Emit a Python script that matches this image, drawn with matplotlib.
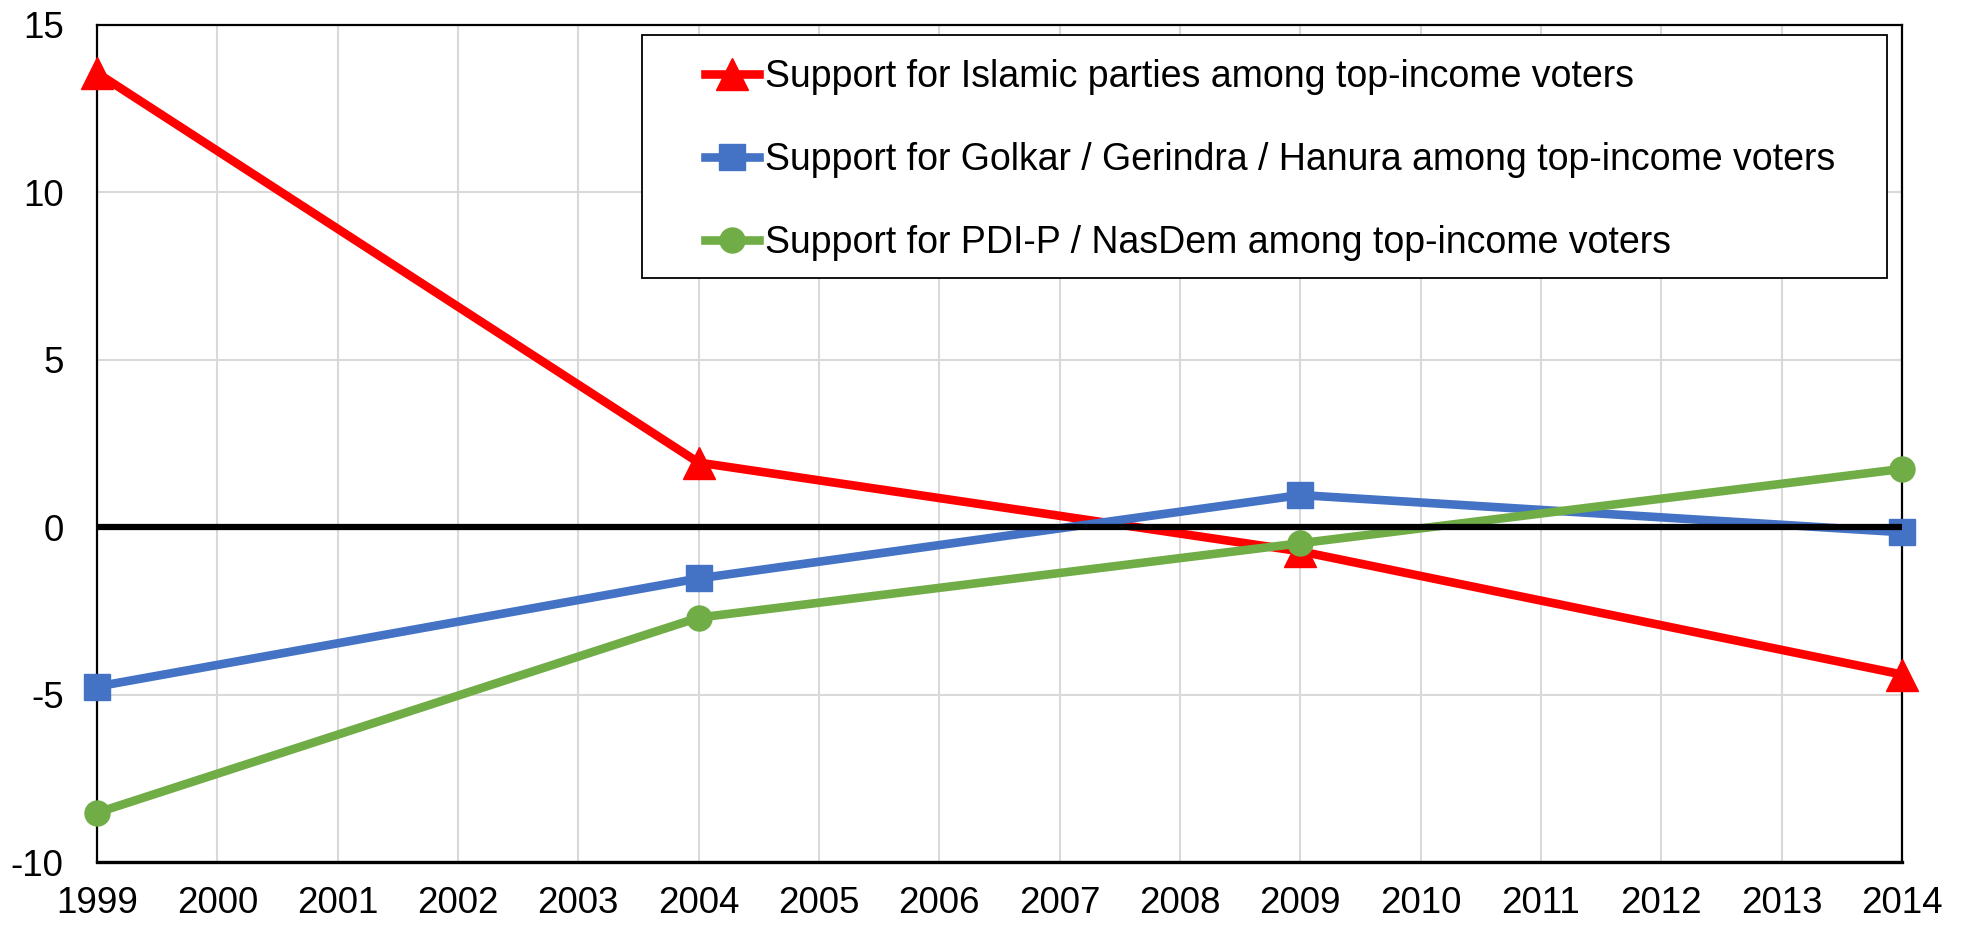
import matplotlib
matplotlib.use("Agg")
import matplotlib.pyplot as plt
from matplotlib.patches import Rectangle

plt.rcParams['font.family'] = ['Liberation Sans', 'DejaVu Sans']
plt.rcParams['axes.unicode_minus'] = False

years = [1999, 2004, 2009, 2014]
islamic = [13.57, 1.93, -0.72, -4.40]
golkar = [-4.76, -1.53, 0.96, -0.15]
pdip = [-8.53, -2.70, -0.48, 1.74]
zero = [0, 0, 0, 0]

labels = ["Support for Islamic parties among top-income voters",
          "Support for Golkar / Gerindra / Hanura among top-income voters",
          "Support for PDI-P / NasDem among top-income voters"]

fig = plt.figure(figsize=(19.66, 9.25), dpi=100)
ax = fig.add_axes([0.0493, 0.0681, 0.9181, 0.9049])

ax.plot(years, islamic, color='#FF0000', lw=6.2, marker='^', ms=23, label=labels[0], zorder=3, clip_on=False)
ax.plot(years, golkar, color='#4472C4', lw=6.2, marker='s', ms=19, label=labels[1], zorder=4, clip_on=False)
ax.plot(years, pdip, color='#70AD47', lw=6.2, marker='o', ms=18, label=labels[2], zorder=5, clip_on=False)
ax.plot(years, zero, color='black', lw=4.5, zorder=6, solid_capstyle='butt')

ax.set_xlim(1999, 2014)
ax.set_ylim(-10, 15)
ax.set_xticks(range(1999, 2015))
ax.set_yticks(range(-10, 16, 5))
ax.grid(True, color='#D9D9D9', lw=1.5, zorder=0)
ax.set_axisbelow(True)
ax.tick_params(axis='both', length=0, labelsize=26.5)
ax.tick_params(axis='y', pad=24)
ax.tick_params(axis='x', pad=17)
for s in ['left', 'top', 'right']:
    ax.spines[s].set_linewidth(1.6)
ax.spines['bottom'].set_linewidth(2.4)

# legend box
box = Rectangle((642 / 1966, 1 - 278 / 925), (1887 - 642) / 1966, (278 - 35) / 925,
                transform=fig.transFigure, facecolor='white', edgecolor='black',
                lw=1.3, zorder=10)
fig.add_artist(box)
leg = fig.legend(loc='upper left', bbox_to_anchor=(705 / 1966, 1 - 59 / 925),
                 bbox_transform=fig.transFigure, frameon=False, fontsize=27,
                 borderpad=0, borderaxespad=0, handlelength=1.45, handletextpad=0.15,
                 labelspacing=1.25, numpoints=1)
leg.set_zorder(11)

fig.savefig("out.png", dpi=100)
